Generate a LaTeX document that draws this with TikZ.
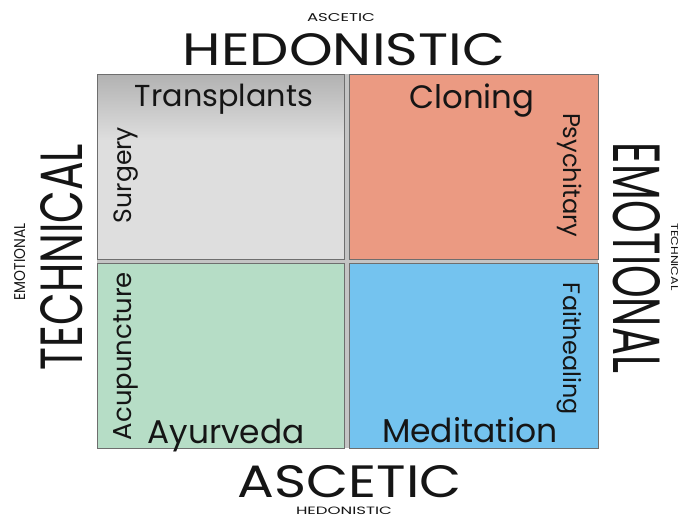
\documentclass[tikz,border=0pt]{standalone}
\usepackage{fontspec}
\usepackage{graphicx}
\setmainfont{Poppins}
\definecolor{gtop}{HTML}{B2B2B2}
\definecolor{glow}{HTML}{DEDEDE}
\definecolor{orangeq}{HTML}{EB9A82}
\definecolor{greenq}{HTML}{B6DDC6}
\definecolor{blueq}{HTML}{74C3EF}
\definecolor{gapc}{HTML}{C4C4C4}
\definecolor{edgec}{HTML}{6E6E6E}
\definecolor{txt}{HTML}{151515}
\newcommand{\fitbox}[3]{\resizebox{#1pt}{#2pt}{#3}}
\newcommand{\fitw}[2]{\resizebox{#1pt}{!}{#2}}
\begin{document}
\begin{tikzpicture}[x=1pt,y=-1pt,
  quad/.style={draw=edgec, line width=0.8pt, inner sep=0pt, outer sep=0pt, anchor=north west},
  lbl/.style={inner sep=0pt, outer sep=0pt, text=txt, anchor=base}]
\useasboundingbox (0,0) rectangle (679,517);
\fill[white] (0,0) rectangle (679,517);
\fill[gapc] (97,74) rectangle (598,448);
% quadrants
\node[quad, fill=glow, minimum width=247pt, minimum height=185pt] (tl) at (97,74) {};
\shade[top color=gtop, bottom color=glow] (97.4,74.4) rectangle (343.6,140);
\draw[edgec, line width=0.8pt] (97,74) rectangle (344,259);
\node[quad, fill=orangeq, minimum width=249pt, minimum height=185pt] (tr) at (349,74) {};
\node[quad, fill=greenq, minimum width=247pt, minimum height=185pt] (bl) at (97,263) {};
\node[quad, fill=blueq, minimum width=249pt, minimum height=185pt] (br) at (349,263) {};
% cell words
\node[lbl] (transplants) at (224,106) {\fitw{178}{Transplants}};
\node[lbl] (cloning) at (472,108) {\fitw{125}{Cloning}};
\node[lbl, rotate=90] (surgery) at (131,175) {\fitw{96}{Surgery}};
\node[lbl, rotate=-90] (psych) at (563,175) {\fitw{124}{Psychitary}};
\node[lbl, rotate=90] (acu) at (131,356) {\fitw{168}{Acupuncture}};
\node[lbl] (ayur) at (226,443) {\fitw{157}{Ayurveda}};
\node[lbl] (medit) at (470,442) {\fitw{176}{Meditation}};
\node[lbl, rotate=-90] (faith) at (563,349) {\fitw{132}{Faithealing}};
% axis labels
\node[lbl] (asceticsmall) at (341,21) {\fitbox{68}{8}{ASCETIC}};
\node[lbl] (hedonistic) at (344,65) {\fitbox{322}{32}{HEDONISTIC}};
\node[lbl] (ascetic) at (350,497) {\fitbox{224}{32}{ASCETIC}};
\node[lbl] (hedonisticsmall) at (344,514) {\fitbox{96}{7.5}{HEDONISTIC}};
\node[lbl, rotate=90] (technical) at (82,257) {\fitbox{226}{42}{TECHNICAL}};
\node[lbl, rotate=90] (emotionalsmall) at (25,262) {\fitbox{77}{11}{EMOTIONAL}};
\node[lbl, rotate=-90] (emotional) at (613,258) {\fitbox{230}{47}{EMOTIONAL}};
\node[lbl, rotate=-90] (technicalsmall) at (671,257) {\fitbox{67}{7}{TECHNICAL}};
\end{tikzpicture}
\end{document}
